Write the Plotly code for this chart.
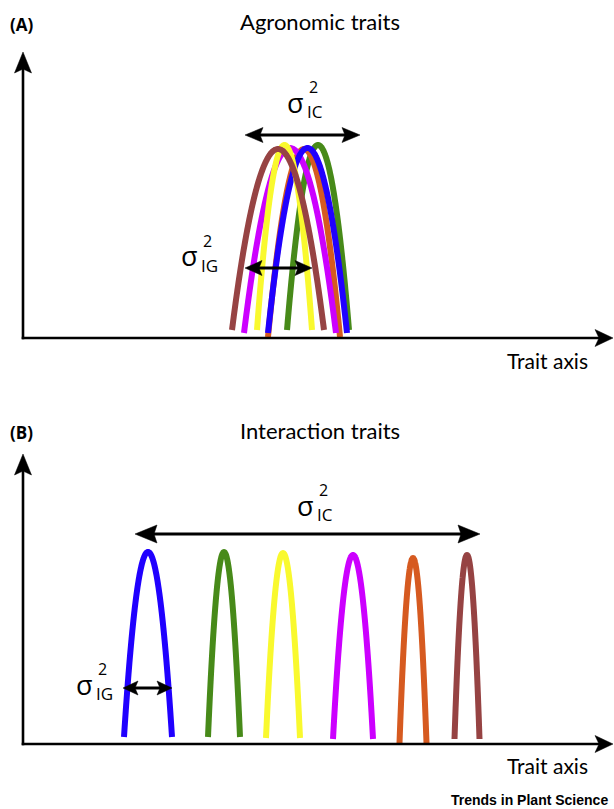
import numpy as np
import plotly.graph_objects as go

W, H = 614, 809

# ---------------- data ----------------
# Panel A: agronomic traits (strongly overlapping genotype distributions)
a_names = ["green", "orange", "magenta", "blue", "yellow", "brown"]
a_colors = ["#478a19", "#d65a20", "#cc00ff", "#2000ff", "#f9f92e", "#964343"]
a_centers = [318, 304, 290, 307.5, 284.5, 278]
a_halfwidths = [31, 36, 46, 39.5, 27.5, 46]
a_peaks = [193, 189, 190, 190, 193, 189]
a_feet = [8, 1, 5, 5, 8, 8]

# Panel B: interaction traits (well separated distributions)
b_names = ["blue", "green", "yellow", "magenta", "orange", "brown"]
b_colors = ["#2000ff", "#478a19", "#f9f92e", "#cc00ff", "#d65a20", "#964343"]
b_centers = [148, 224, 283, 353, 413, 467]
b_halfwidths = [24, 16, 17, 20, 13.5, 12.5]
b_peaks = [192, 192, 191, 189, 186, 189]
b_feet = [7, 7, 6, 5, 1, 5]

titles = ["Agronomic traits", "Interaction traits"]
panel_tags = ["(A)", "(B)"]
axis_label = "Trait axis"
source = "Trends in Plant Science"

# ---------------- figure ----------------
fig = go.Figure()
u = np.linspace(-1, 1, 161)


def add_curves(centers, hws, peaks, feet, colors, names, xa, ya):
    for c, hw, pk, ft, col, nm in zip(centers, hws, peaks, feet, colors, names):
        xs = c + hw * u
        ys = ft + (pk - ft) * (1 - u ** 2)
        fig.add_trace(go.Scatter(x=xs, y=ys, mode="lines", name=nm,
                                 line=dict(color=col, width=6, shape="spline"),
                                 xaxis=xa, yaxis=ya, hoverinfo="skip",
                                 showlegend=False))


add_curves(a_centers, a_halfwidths, a_peaks, a_feet, a_colors, a_names, "x", "y")
add_curves(b_centers, b_halfwidths, b_peaks, b_feet, b_colors, b_names, "x2", "y2")

shapes = []


def head(tx, ty, dx, dy, length, half, notch, xref, yref):
    bx, by = tx - dx * length, ty - dy * length
    px, py = -dy, dx
    pts = [(tx, ty), (bx + px * half, by + py * half),
           (bx + dx * notch, by + dy * notch), (bx - px * half, by - py * half)]
    path = "M " + " L ".join(f"{x:.2f},{y:.2f}" for x, y in pts) + " Z"
    shapes.append(dict(type="path", path=path, xref=xref, yref=yref,
                       fillcolor="black", line=dict(color="black", width=0.5)))


def line(x0, y0, x1, y1, w, xref, yref):
    shapes.append(dict(type="line", x0=x0, y0=y0, x1=x1, y1=y1, xref=xref, yref=yref,
                       line=dict(color="black", width=w)))


def double_arrow(x0, x1, y, w, length, half, notch, xref, yref):
    line(x0 + length - notch - 1, y, x1 - length + notch + 1, y, w, xref, yref)
    head(x1, y, 1, 0, length, half, notch, xref, yref)
    head(x0, y, -1, 0, length, half, notch, xref, yref)


# axes (baseline at y=0)
for xr, yr, top in (("x", "y", 286), ("x2", "y2", 290)):
    line(23, -1.2, 23, top - 15, 2.6, xr, yr)
    head(23, top, 0, 1, 21, 8.5, 4, xr, yr)
    line(21.7, 0, 600, 0, 2.6, xr, yr)
    head(613, 0, 1, 0, 18, 8.5, 4, xr, yr)

# variance arrows
double_arrow(245, 360, 203, 3, 18, 7.5, 3, "x", "y")
double_arrow(245, 312, 70, 3, 17, 7.5, 3, "x", "y")
double_arrow(135, 480, 210, 3, 22, 9, 3, "x2", "y2")
double_arrow(123, 172, 56, 3, 15, 7, 3, "x2", "y2")

annotations = []


def text(x, y, s, size, bold=False, family="Lato", xanchor="center"):
    annotations.append(dict(x=x / W, y=1 - y / H, xref="paper", yref="paper",
                            text=f"<b>{s}</b>" if bold else s, showarrow=False,
                            xanchor=xanchor, yanchor="middle", borderpad=0,
                            font=dict(size=size, color="black", family=family)))


def sigma(x, y, sub):
    # x = right edge of sigma glyph
    text(x + 2, y - 4, "σ", 27, family="Open Sans", xanchor="right")
    text(x + 5, y - 19, "2", 16, family="Open Sans", xanchor="left")
    text(x + 3, y + 5, sub, 17, family="Open Sans", xanchor="left")


text(9, 25, panel_tags[0], 17, bold=True, family="Open Sans", xanchor="left")
text(320, 22, titles[0], 22)
text(9, 432, panel_tags[1], 17, bold=True, family="Open Sans", xanchor="left")
text(320, 430, titles[1], 22)
text(547, 360, axis_label, 21)
text(547, 765, axis_label, 21)
text(609, 800, source, 14, bold=True, family="Liberation Sans", xanchor="right")

sigma(303, 106, "IC")
sigma(197, 260, "IG")
sigma(313, 509, "IC")
sigma(92, 688, "IG")

fig.update_layout(
    width=W, height=H, margin=dict(l=0, r=0, t=0, b=0),
    paper_bgcolor="white", plot_bgcolor="white",
    showlegend=False, shapes=shapes, annotations=annotations,
    xaxis=dict(domain=[0, 1], range=[0, W], visible=False, fixedrange=True),
    yaxis=dict(domain=[1 - 400 / H, 1], range=[-62, 338], visible=False, fixedrange=True),
    xaxis2=dict(domain=[0, 1], range=[0, W], visible=False, fixedrange=True, anchor="y2"),
    yaxis2=dict(domain=[0, 409 / H], range=[-65, 344], visible=False, fixedrange=True, anchor="x2"),
)

fig.write_html("out.html", config={"displayModeBar": False},
               post_script="document.body.style.margin='0px';document.body.style.overflow='hidden';")
